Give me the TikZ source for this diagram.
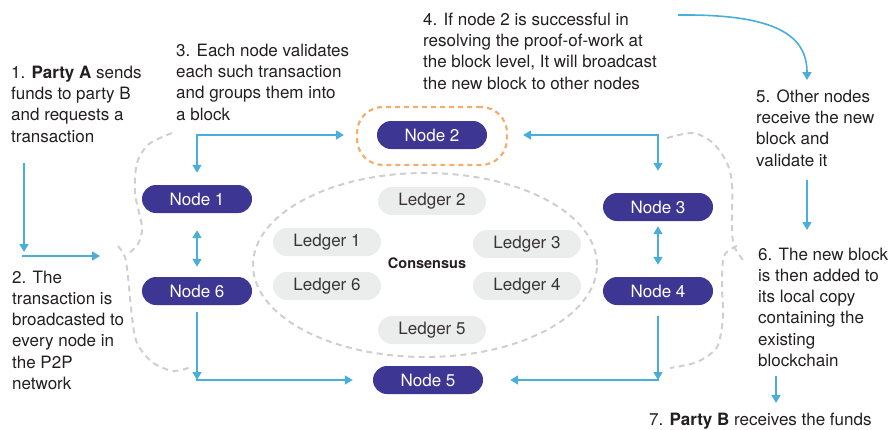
\documentclass[tikz,border=0pt]{standalone}
\usepackage{fontspec}
\setmainfont{TeX Gyre Heros}
\usetikzlibrary{arrows.meta}
\definecolor{nodepurple}{HTML}{3D3693}
\definecolor{flowblue}{HTML}{4AAEDA}
\definecolor{ledgergray}{HTML}{EBECEC}
\definecolor{dashgray}{HTML}{CFCFCF}
\definecolor{minerorange}{HTML}{F6AC6E}
\definecolor{inktext}{HTML}{231F20}
\begin{document}
\begin{tikzpicture}[x=1pt,y=-1pt,
  pill/.style={rectangle, rounded corners=14pt, minimum width=110pt,
    minimum height=28pt, inner sep=0pt, font=\fontsize{17}{20}\selectfont},
  netnode/.style={pill, fill=nodepurple, text=white},
  ledger/.style={pill, fill=ledgergray, text=inktext!90, minimum width=108pt},
  % multi-line captions are placed by the baseline of their last line
  note/.style={anchor=base west, align=left, inner sep=0pt, text=inktext,
    font=\fontsize{17}{21.3}\selectfont},
  flow/.style={draw=flowblue, line width=1.6pt, line cap=rect,
    -{Triangle[width=9pt,length=8pt]}},
  twoway/.style={draw=flowblue, line width=1.6pt,
    {Triangle[width=9pt,length=8pt]}-{Triangle[width=9pt,length=8pt]}},
  hint/.style={draw=dashgray, line width=2pt, dash pattern=on 6pt off 4.5pt},
  minerframe/.style={draw=minerorange, line width=2.2pt,
    dash pattern=on 5pt off 4pt, rounded corners=26pt,
    minimum width=150pt, minimum height=58pt}
]
\useasboundingbox (0,0) rectangle (891,429);

% consensus ring and the ledgers inside it
\draw[hint] (425,265) ellipse [x radius=172pt, y radius=92pt];
\node[ledger] (l2) at (432,201) {Ledger 2};
\node[ledger] (l1) at (327,242) {Ledger 1};
\node[ledger] (l3) at (527,244) {Ledger 3};
\node[ledger] (l6) at (327,286) {Ledger 6};
\node[ledger] (l4) at (527,286) {Ledger 4};
\node[ledger] (l5) at (432,330) {Ledger 5};
\node[font=\fontsize{14.5}{16}\selectfont\bfseries, text=inktext] (cons) at (427,263) {Consensus};

% network nodes
\node[netnode] (n1) at (197,199) {Node 1};
\node[netnode] (n6) at (197,291) {Node 6};
\node[netnode] (n2) at (432,135) {Node 2};
\node[netnode] (n3) at (658,207) {Node 3};
\node[netnode] (n4) at (658,291) {Node 4};
\node[netnode] (n5) at (428,380) {Node 5};
\node[minerframe] (miner) at (432,136) {};

% broadcast connectors
\coordinate (c1) at (197,135);
\draw[flow, shorten >=12pt] (c1) -- (n1.north);
\draw[flow, shorten >=12pt] (c1) -- (c1 -| miner.west);
\draw[twoway, shorten <=17pt, shorten >=10pt] (n1.south) -- (n6.north);
\coordinate (c6) at (197,380);
\draw[flow, shorten <=8pt] (n6.south) -- (c6);
\draw[flow, shorten >=20pt] (c6) -- (n5.west);

\coordinate (c2) at (658,135);
\draw[flow, shorten >=15pt] (c2) -- (c2 -| miner.east);
\draw[flow, shorten >=22pt] (c2) -- (n3.north);
\draw[twoway, shorten <=5pt, shorten >=12pt] (n3.south) -- (n4.north);
\coordinate (c4) at (658,380);
\draw[flow, shorten <=12pt] (n4.south) -- (c4);
\draw[flow, shorten >=27pt] (c4) -- (n5.east);

% step arrows between the captions
\coordinate (s1a) at (24,164);  \coordinate (s1b) at (24,252);
\draw[flow] (s1a) -- (s1b);
\coordinate (s2a) at (23,256);  \coordinate (s2b) at (100,256);
\draw[flow] (s2a) -- (s2b);
\coordinate (s4a) at (679,15);  \coordinate (s4b) at (807,80);
\draw[flow] (s4a) .. controls (775,14) and (807,35) .. (s4b);
\coordinate (s5a) at (807,181); \coordinate (s5b) at (807,230);
\draw[flow] (s5a) -- (s5b);
\coordinate (s6a) at (776,377); \coordinate (s6b) at (776,403);
\draw[flow] (s6a) -- (s6b);

% dashed braces grouping the side nodes
\draw[hint] plot[smooth] coordinates {(172,133) (149,144) (137,163) (135,193) (142,227) (138,244) (128,254)};
\draw[hint] plot[smooth] coordinates {(118,246) (125,257) (128,277) (132,317) (137,343) (152,362) (173,371) (191,367)};
\draw[hint] plot[smooth] coordinates {(667,138) (693,133) (713,143) (727,163) (732,185) (732,227) (734,246) (743,260)};
\draw[hint] plot[smooth] coordinates {(737,246) (724,256) (722,287) (723,317) (717,347) (697,362) (670,368)};

% captions
\node[note] (t1) at (11,142) {1. \textbf{Party A} sends\\funds to party B\\and requests a\\transaction};
\node[note] (t2) at (12,389.5) {2. The\\transaction is\\broadcasted to\\every node in\\the P2P\\network};
\node[note] (t3) at (176,120) {3. Each node validates\\each such transaction\\and groups them into\\a block};
\node[note] (t4) at (423,89) {4. If node 2 is successful in\\resolving the proof-of-work at\\the block level, It will broadcast\\the new block to other nodes};
\node[note] (t5) at (756,166) {5. Other nodes\\receive the new\\block and\\validate it};
\node[note] (t6) at (758,366.5) {6. The new block\\is then added to\\its local copy\\containing the\\existing\\blockchain};
\node[note] (t7) at (649,425) {7. \textbf{Party B} receives the funds};
\end{tikzpicture}
\end{document}
